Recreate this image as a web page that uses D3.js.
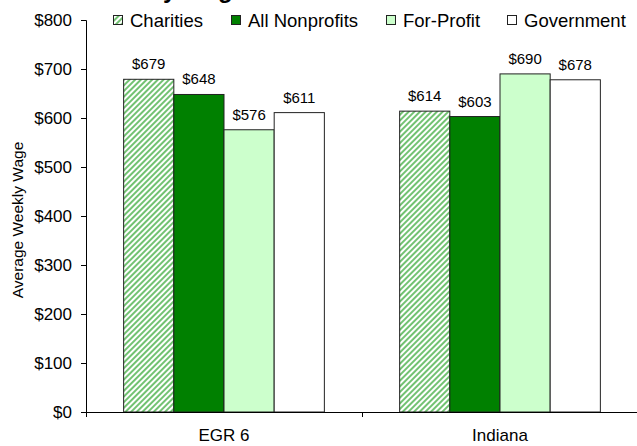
<!DOCTYPE html>
<html>
<head>
<meta charset="utf-8">
<script src="https://cdn.jsdelivr.net/npm/d3@7"></script>
<style>
  body { margin: 0; background: #fff; }
  svg { display: block; font-family: Arial, "Liberation Sans", sans-serif; }
</style>
</head>
<body>
<svg id="chart" width="637" height="446"></svg>
<script>
// data
var regions = ["EGR 6", "Indiana"];
var sectors = ["Charities", "All Nonprofits", "For-Profit", "Government"];
var charities = [679, 614];
var allNonprofits = [648, 603];
var forProfit = [576, 690];
var government = [611, 678];
var yTicks = [0, 100, 200, 300, 400, 500, 600, 700, 800];

var series = [charities, allNonprofits, forProfit, government];
var fills = ["url(#hatch)", "#008000", "#ccffcc", "#ffffff"];

var svg = d3.select("#chart");
var margin = {top: 20, right: -1, bottom: 34, left: 86},
    width = 637 - margin.left - margin.right,
    height = 446 - margin.top - margin.bottom;

// diagonal stripes for charities
var pat = svg.append("defs").append("pattern")
    .attr("id", "hatch")
    .attr("patternUnits", "userSpaceOnUse")
    .attr("width", 4).attr("height", 4)
    .attr("patternTransform", "rotate(45)");
pat.append("rect").attr("width", 4).attr("height", 4).attr("fill", "#fff");
pat.append("rect").attr("width", 2).attr("height", 4).attr("fill", "#72c272");

// clipped title, only descenders peek out at the top
svg.append("text")
    .attr("x", 94).attr("y", -2)
    .style("font-size", "24px").style("font-weight", "bold")
    .text("Weekly Wage");

var g = svg.append("g").attr("transform", "translate(" + margin.left + "," + margin.top + ")");

var x0 = d3.scaleBand().domain(regions).range([0, width]).paddingInner(0).paddingOuter(0);
var x1 = d3.scaleBand().domain(sectors).range([0, x0.bandwidth()]).paddingInner(0).paddingOuter(0.75);
var y = d3.scaleLinear().domain([0, 800]).range([height, 0]);

// y axis
var yAxis = g.append("g")
    .call(d3.axisLeft(y).tickValues(yTicks).tickSize(5).tickPadding(9).tickFormat(function(d) { return "$" + d; }));
yAxis.select(".domain").attr("d", "M-5,0.5H0.5V" + (height + 5)).attr("stroke", "#000");
yAxis.selectAll("text").style("font-size", "17px").attr("fill", "#000");
yAxis.selectAll("line").attr("stroke", "#000");

g.append("text")
    .attr("transform", "translate(" + (23 - margin.left) + "," + (height / 2 + 4) + ") rotate(-90)")
    .attr("text-anchor", "middle")
    .style("font-size", "15.5px")
    .text("Average Weekly Wage");

// bars
series.forEach(function(vals, si) {
  var grp = g.append("g");
  grp.selectAll("rect").data(vals).enter().append("rect")
    .attr("x", function(d, i) { return x0(regions[i]) + x1(sectors[si]); })
    .attr("y", function(d) { return y(d); })
    .attr("width", x1.bandwidth())
    .attr("height", function(d) { return height - y(d); })
    .attr("fill", fills[si])
    .attr("stroke", "#222")
    .attr("stroke-width", 1);
  grp.selectAll("text").data(vals).enter().append("text")
    .attr("x", function(d, i) { return x0(regions[i]) + x1(sectors[si]) + x1.bandwidth() / 2; })
    .attr("y", function(d) { return y(d) - 10; })
    .attr("text-anchor", "middle")
    .style("font-size", "15px")
    .text(function(d) { return "$" + d; });
});

// x axis
var xAxis = g.append("g")
    .attr("transform", "translate(0," + height + ")")
    .call(d3.axisBottom(x0).tickSize(0).tickPadding(17));
xAxis.select(".domain").attr("stroke", "#000").attr("d", "M0.5,0.5H" + width);
xAxis.selectAll("text").style("font-size", "17px").attr("fill", "#000");
xAxis.append("line")
    .attr("x1", x0.bandwidth() + 0.5).attr("x2", x0.bandwidth() + 0.5)
    .attr("y1", 0).attr("y2", 5).attr("stroke", "#000");

// legend
var legX = [113, 231, 386, 507];
var leg = svg.append("g").attr("transform", "translate(0,20)");
sectors.forEach(function(s, i) {
  leg.append("rect")
    .attr("x", legX[i] + 0.5).attr("y", -4.5)
    .attr("width", 9).attr("height", 9)
    .attr("fill", fills[i]).attr("stroke", "#222");
  leg.append("text")
    .attr("x", legX[i] + 17).attr("y", 6.5)
    .style("font-size", "18.5px")
    .text(s);
});
</script>
</body>
</html>
